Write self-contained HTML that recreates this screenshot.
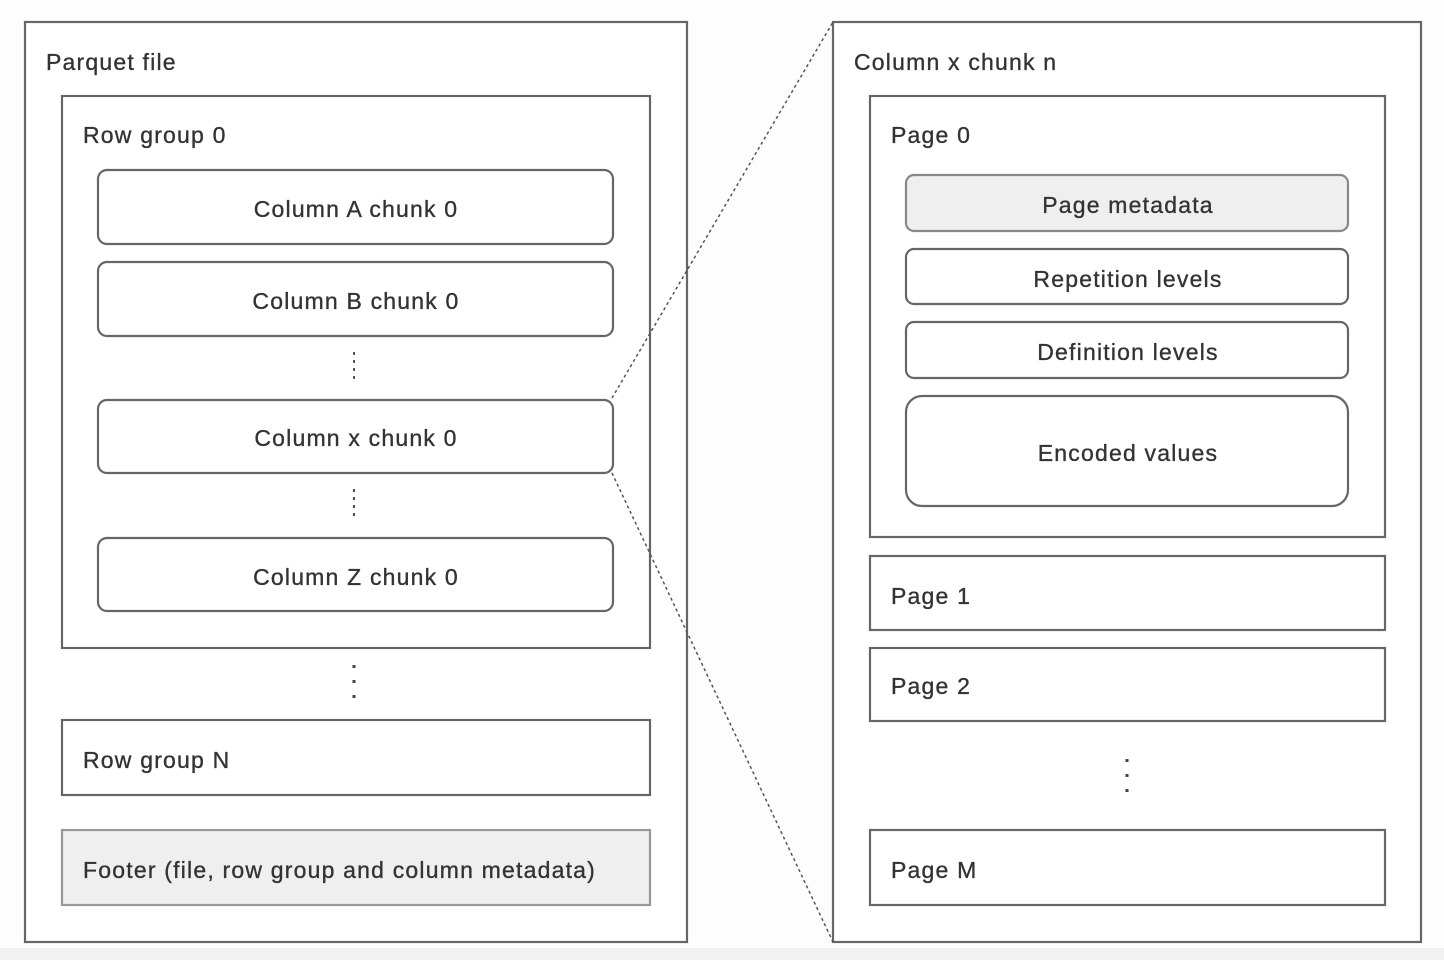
<!DOCTYPE html>
<html><head><meta charset="utf-8"><style>
html,body{margin:0;padding:0;background:#fdfdfd;}
svg{display:block;}
text{font-family:"Liberation Sans",sans-serif;font-size:23px;fill:#333;letter-spacing:1.2px;stroke:#333;stroke-width:0.35;}
</style></head><body>
<svg width="1444" height="960" viewBox="0 0 1444 960">
<rect x="0" y="948" width="1444" height="12" fill="#f1f1f1"/>
<g fill="none" stroke="#666" stroke-width="2.2">
<rect x="25" y="22" width="662" height="920" fill="#fff"/>
<rect x="833" y="22" width="588" height="920" fill="#fff"/>
<rect x="62" y="96" width="588" height="552"/>
<rect x="98" y="170" width="515" height="74" rx="9"/>
<rect x="98" y="262" width="515" height="74" rx="9"/>
<rect x="98" y="400" width="515" height="73" rx="9"/>
<rect x="98" y="538" width="515" height="73" rx="9"/>
<rect x="62" y="720" width="588" height="75"/>
<rect x="62" y="830" width="588" height="75" fill="#efefef" stroke="#999"/>
<rect x="870" y="96" width="515" height="441"/>
<rect x="906" y="175" width="442" height="56" rx="8" fill="#efefef" stroke="#888"/>
<rect x="906" y="249" width="442" height="55" rx="8"/>
<rect x="906" y="322" width="442" height="56" rx="8"/>
<rect x="906" y="396" width="442" height="110" rx="16"/>
<rect x="870" y="556" width="515" height="74"/>
<rect x="870" y="648" width="515" height="73"/>
<rect x="870" y="830" width="515" height="75"/>
</g>
<g stroke="#555" stroke-width="1.5" stroke-dasharray="3,3" fill="none">
<line x1="612" y1="398" x2="833" y2="22"/>
<line x1="612" y1="473" x2="833" y2="942"/>
</g>
<g stroke="#555" stroke-width="2" stroke-dasharray="3,5">
<line x1="354" y1="352" x2="354" y2="382"/>
<line x1="354" y1="489" x2="354" y2="519"/>
</g>
<g stroke="#444" stroke-width="3" stroke-dasharray="3,12">
<line x1="354" y1="665" x2="354" y2="702"/>
<line x1="1127" y1="759" x2="1127" y2="796"/>
</g>
<text x="46" y="70">Parquet file</text>
<text x="83" y="143">Row group 0</text>
<text x="356" y="217" text-anchor="middle">Column A chunk 0</text>
<text x="356" y="309" text-anchor="middle">Column B chunk 0</text>
<text x="356" y="446" text-anchor="middle">Column x chunk 0</text>
<text x="356" y="585" text-anchor="middle">Column Z chunk 0</text>
<text x="83" y="768">Row group N</text>
<text x="83" y="878">Footer (file, row group and column metadata)</text>
<text x="854" y="70">Column x chunk n</text>
<text x="891" y="143">Page 0</text>
<text x="1128" y="213" text-anchor="middle">Page metadata</text>
<text x="1128" y="287" text-anchor="middle">Repetition levels</text>
<text x="1128" y="360" text-anchor="middle">Definition levels</text>
<text x="1128" y="461" text-anchor="middle">Encoded values</text>
<text x="891" y="604">Page 1</text>
<text x="891" y="694">Page 2</text>
<text x="891" y="878">Page M</text>
</svg>
</body></html>
